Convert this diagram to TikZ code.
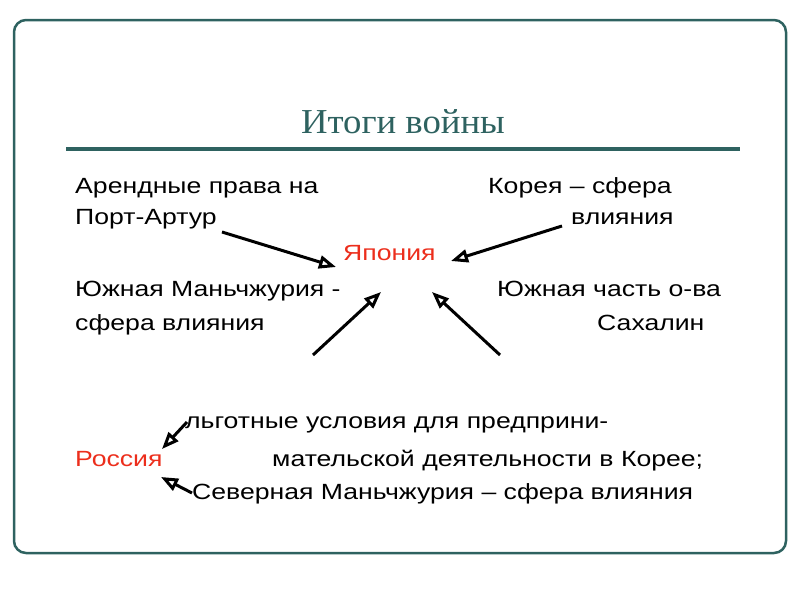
\documentclass[tikz,border=0pt]{standalone}
\usepackage{fontspec}
\setmainfont[FakeStretch=1.21]{Liberation Sans}
\newfontfamily\titlefont[FakeStretch=1.05]{Liberation Serif}
\usepackage{xcolor}
\usetikzlibrary{arrows.meta}
\definecolor{frame}{RGB}{46,98,96}
\definecolor{hot}{RGB}{236,46,28}

\begin{document}
\begin{tikzpicture}[x=1pt,y=-1pt,
          txt/.style={anchor=base west,inner sep=0pt,font=\fontsize{22}{26}\selectfont},
          arr/.style={line width=3pt,-{Triangle[open,length=17pt,width=13pt,line width=3pt]}}]
          \useasboundingbox (0,0) rectangle (800,600);
          \draw[frame,line width=2.5pt,rounded corners=12pt](14,20) rectangle (786,553);
          \node[anchor=base,inner sep=0pt,text=frame,font=\titlefont\fontsize{35}{40}\selectfont](title) at (403,133){Итоги войны};
          \draw[frame,line width=3.5pt](66,149)--(740,149);
          % Japan side
          \node[txt](lease) at (75,193){Арендные права на};
          \node[txt](port) at (75,224){Порт-Артур};
          \node[txt](korea) at (488,193){Корея – сфера};
          \node[txt](kinfl) at (571,224){влияния};
          \node[txt,text=hot](japan) at (343,260){Япония};
          \node[txt](south) at (75,296){Южная Маньчжурия -};
          \node[txt](sinfl) at (75,330){сфера влияния};
          \node[txt](sakh) at (497,296){Южная часть о-ва};
          \node[txt](sakh2) at (597,330){Сахалин};
          \coordinate (a1) at (222,232); \coordinate (b1) at (336,267);
          \coordinate (a2) at (562,226); \coordinate (b2) at (451,261);
          \coordinate (a3) at (313,355); \coordinate (b3) at (381,292);
          \coordinate (a4) at (500,355); \coordinate (b4) at (432,292);
          \draw[arr](a1)--(b1);
          \draw[arr](a2)--(b2);
          \draw[arr](a3)--(b3);
          \draw[arr](a4)--(b4);
          % Russia side
          \node[txt](priv) at (185,428){льготные условия для предприни-};
          \node[txt,text=hot](russia) at (75,466){Россия};
          \node[txt](priv2) at (272,466){мательской деятельности в Корее;};
          \node[txt](north) at (192,499){Северная Маньчжурия – сфера влияния};
          \coordinate (c1) at (187,422); \coordinate (d1) at (162,449);
          \coordinate (c2) at (192,493); \coordinate (d2) at (161,477);
          \draw[arr](c1)--(d1);
          \draw[arr](c2)--(d2);
        \end{tikzpicture}
\end{document}
